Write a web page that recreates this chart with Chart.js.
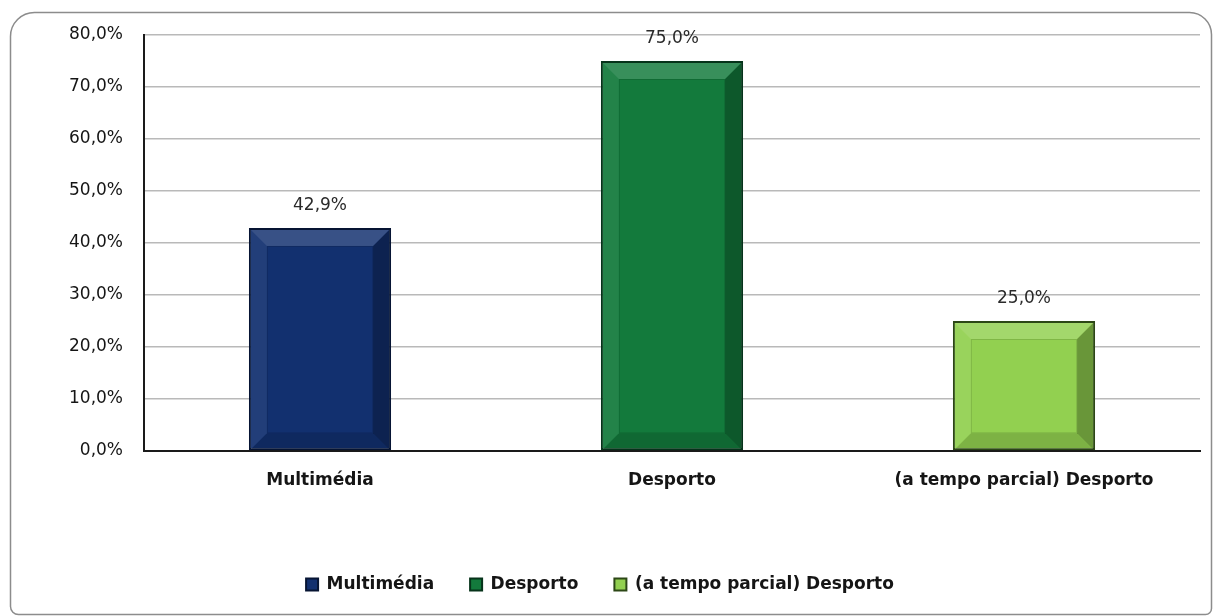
<!DOCTYPE html>
<html>
<head>
<meta charset="utf-8">
<script src="https://cdn.jsdelivr.net/npm/chart.js@4.4.1/dist/chart.umd.min.js"></script>
<style>
  html, body { margin: 0; padding: 0; background: #fff; }
  #wrap { width: 1214px; height: 616px; position: relative; }
</style>
</head>
<body>
<div id="wrap"><canvas id="barChart" width="1214" height="616"></canvas></div>
<script>
const categories = ['Multimédia', 'Desporto', '(a tempo parcial) Desporto'];
const seriesNames = ['Multimédia', 'Desporto', '(a tempo parcial) Desporto'];
const values = [42.9, 75.0, 25.0];
const yTicks = [0, 10, 20, 30, 40, 50, 60, 70, 80];

const fills = ['#12306f', '#137a3c', '#92d050'];
const edges = ['#061433', '#06331a', '#2c4716'];

Chart.defaults.font.family = "'DejaVu Sans', Verdana, sans-serif";
Chart.defaults.color = '#151515';

function pct(v) {
    return v.toFixed(1).replace('.', ',') + '%';
}

// one dataset per bar, so each one gets its own legend entry
const datasets = seriesNames.map((name, i) => ({
    label: name,
    data: categories.map((c, j) => (j === i ? values[i] : null)),
    backgroundColor: fills[i],
    borderColor: edges[i],
    borderWidth: 2,
    borderSkipped: false
}));

const framePlugin = {
    id: 'frame',
    beforeDraw(chart) {
        const ctx = chart.ctx;
        ctx.save();
        ctx.strokeStyle = '#8c8c8c';
        ctx.lineWidth = 1.5;
        ctx.beginPath();
        ctx.roundRect(10.5, 12.5, 1201, 602, [24, 22, 6, 8]);
        ctx.stroke();
        ctx.restore();
    }
};

// bevel look + value labels on top of each bar
const barDecor = {
    id: 'barDecor',
    afterDatasetsDraw(chart) {
        const ctx = chart.ctx;
        chart.data.datasets.forEach((ds, di) => {
            const meta = chart.getDatasetMeta(di);
            meta.data.forEach((bar, j) => {
                const v = ds.data[j];
                if (v === null || v === undefined) return;
                const { x, y, base, width } = bar.getProps(['x', 'y', 'base', 'width'], true);
                const l = x - width / 2 + 2, r = x + width / 2 - 2;
                const t = y + 2, b = base - 1;
                const ins = Math.min(16, (b - t) / 4);
                ctx.save();
                ctx.fillStyle = 'rgba(255,255,255,0.16)';
                ctx.beginPath();
                ctx.moveTo(l, t); ctx.lineTo(r, t); ctx.lineTo(r - ins, t + ins); ctx.lineTo(l + ins, t + ins);
                ctx.closePath(); ctx.fill();
                ctx.fillStyle = 'rgba(255,255,255,0.07)';
                ctx.beginPath();
                ctx.moveTo(l, t); ctx.lineTo(l + ins, t + ins); ctx.lineTo(l + ins, b - ins); ctx.lineTo(l, b);
                ctx.closePath(); ctx.fill();
                ctx.fillStyle = 'rgba(0,0,0,0.28)';
                ctx.beginPath();
                ctx.moveTo(r, t); ctx.lineTo(r - ins, t + ins); ctx.lineTo(r - ins, b - ins); ctx.lineTo(r, b);
                ctx.closePath(); ctx.fill();
                ctx.fillStyle = 'rgba(0,0,0,0.14)';
                ctx.beginPath();
                ctx.moveTo(l, b); ctx.lineTo(r, b); ctx.lineTo(r - ins, b - ins); ctx.lineTo(l + ins, b - ins);
                ctx.closePath(); ctx.fill();
                ctx.strokeStyle = 'rgba(0,0,0,0.12)';
                ctx.lineWidth = 1;
                ctx.strokeRect(l + ins + 0.5, t + ins + 0.5, r - l - 2 * ins - 1, b - t - 2 * ins - 1);
                ctx.restore();

                ctx.save();
                ctx.font = "17px 'DejaVu Sans', Verdana, sans-serif";
                ctx.fillStyle = '#2a2a2a';
                ctx.textAlign = 'center';
                ctx.textBaseline = 'middle';
                ctx.fillText(pct(v), x, y - 22);
                ctx.restore();
            });
        });
    }
};

const chart = new Chart(document.getElementById('barChart').getContext('2d'), {
    type: 'bar',
    data: { labels: categories, datasets: datasets },
    options: {
        responsive: false,
        animation: false,
        layout: { padding: { top: 35, right: 14, bottom: 13, left: 0 } },
        datasets: {
            bar: { grouped: false, categoryPercentage: 0.404, barPercentage: 1 }
        },
        plugins: {
            legend: {
                position: 'bottom',
                labels: {
                    boxWidth: 12,
                    boxHeight: 12,
                    padding: 36,
                    color: '#151515',
                    font: { size: 17, weight: 'bold' }
                }
            },
            tooltip: { enabled: false }
        },
        scales: {
            y: {
                min: yTicks[0],
                max: yTicks[yTicks.length - 1],
                afterBuildTicks: (scale) => { scale.ticks = yTicks.map(v => ({ value: v })); },
                afterFit: (scale) => { scale.width = 144; },
                ticks: {
                    padding: 21,
                    color: '#151515',
                    font: { size: 17 },
                    callback: (v) => pct(v)
                },
                grid: { color: '#b9b9b9', lineWidth: 1.5, drawTicks: false },
                border: { color: '#1a1a1a', width: 2 }
            },
            x: {
                afterFit: (scale) => { scale.height = 89; },
                ticks: {
                    padding: 19,
                    color: '#151515',
                    font: { size: 17, weight: 'bold' }
                },
                grid: { display: false, drawTicks: false },
                border: { color: '#1a1a1a', width: 2 }
            }
        }
    },
    plugins: [framePlugin, barDecor]
});
</script>
</body>
</html>
